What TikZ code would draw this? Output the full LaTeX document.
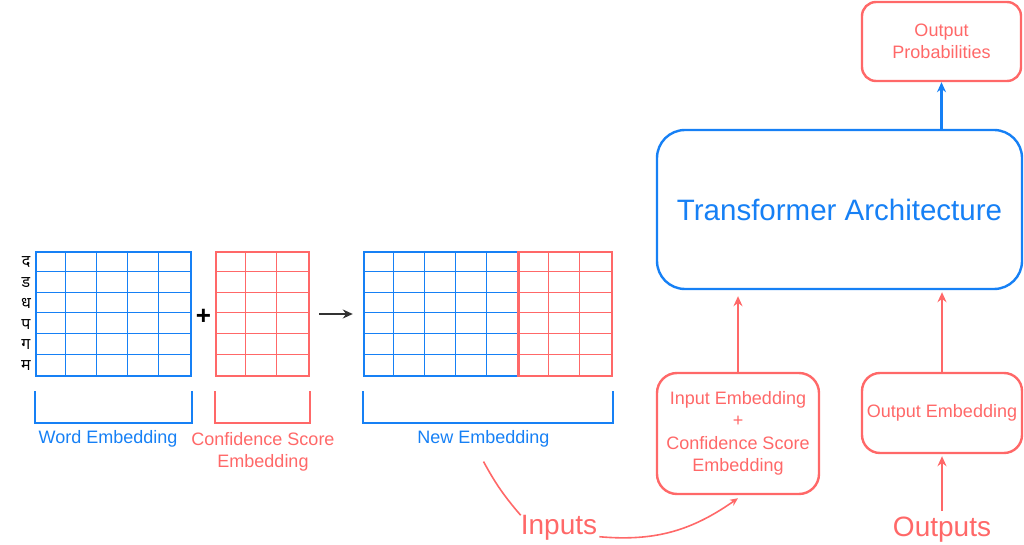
\documentclass[tikz,border=0pt]{standalone}
\usepackage{fontspec}
\setmainfont{Liberation Sans}
\newfontfamily\devafont[Script=Devanagari]{Noto Sans}
\usetikzlibrary{arrows.meta,positioning,calc}

\definecolor{embblue}{RGB}{22,128,245}
\definecolor{embred}{RGB}{255,104,104}
\definecolor{arrgray}{RGB}{50,50,50}

\tikzset{
  lbl/.style={font=\fontsize{18}{22.5}\selectfont, align=center, inner sep=0pt},
  biglbl/.style={font=\fontsize{28}{32}\selectfont, inner sep=2pt},
  blk/.style={draw, line width=2.4pt, align=center, inner sep=0pt},
  grid/.style={draw, line width=2.4pt, minimum height=124pt, inner sep=0pt},
  cell/.style={line width=1.2pt},
  brk/.style={line width=2.4pt},
  arr/.style={-{Stealth[length=10pt,width=9pt]}, line width=2.2pt},
}

\begin{document}
\begin{tikzpicture}[x=1pt,y=-1pt]
\useasboundingbox (0,0) rectangle (1024,545);

% the three embedding grids
\node[grid, draw=embblue, minimum width=155pt] (word) at (113.5,314) {};
\node[grid, draw=embred, minimum width=93pt] (conf) at (262.5,314) {};
\node[grid, draw=embblue, minimum width=155pt] (newblue) at (441.5,314) {};
\node[grid, draw=embred, minimum width=93pt] (newred) at (565.5,314) {};

\foreach \n/\c/\k in {word/embblue/4, conf/embred/2, newblue/embblue/4, newred/embred/2} {
  \foreach \i in {1,...,\k}
    \draw[cell, \c] ($(\n.north west)+(31*\i,0)$) -- ($(\n.south west)+(31*\i,0)$);
  \foreach \j in {1,...,5}
    \draw[cell, \c] ($(\n.north west)+(0,124/6*\j)$) -- ($(\n.north east)+(0,124/6*\j)$);
}
\draw[line width=2.4pt, embred] (newred.north west) -- (newred.south west);

% row tokens
\foreach \t [count=\j from 0] in {द,ड,ध,प,ग,म}
  \node[font=\devafont\fontsize{16}{16}\selectfont, inner sep=0pt] (tok\j) at (26,{252+124/6*(\j+0.5)}) {\t};

\node[font=\bfseries\fontsize{26}{26}\selectfont, inner sep=0pt] (plus) at ($(word.east)!0.5!(conf.west)+(0,3)$) {+};
\draw[arr, arrgray, line width=2pt, shorten <=9pt, shorten >=10pt] (conf.east) -- (newblue.west);

% brackets
\draw[brk, embblue] ($(word.south west)+(0,14)$) -- ++(0,32) -| ($(word.south east)+(0,14)$);
\draw[brk, embred] ($(conf.south west)+(0,14)$) -- ++(0,32) -| ($(conf.south east)+(0,14)$);
\draw[brk, embblue] ($(newblue.south west)+(0,14)$) -- ++(0,32) -| ($(newred.south east)+(0,14)$);

\node[lbl, embblue] (wordlbl) at (108,439) {Word Embedding};
\node[lbl, embred] (conflbl) at (263,452) {Confidence Score\\Embedding};
\node[lbl, embblue] (newlbl) at (483.5,439) {New Embedding};

% model side
\node[blk, draw=embred, rounded corners=14pt, minimum width=159pt, minimum height=79pt, text=embred, font=\fontsize{18}{22}\selectfont] (outprob) at (941.5,41.5) {Output\\Probabilities};
\node[blk, draw=embblue, rounded corners=28pt, minimum width=365pt, minimum height=159pt, text=embblue, font=\fontsize{29.5}{34}\selectfont] (trans) at (839.5,209.5) {Transformer Architecture};
\node[blk, draw=embred, rounded corners=20pt, minimum width=162pt, minimum height=121pt, text=embred, font=\fontsize{18}{22.5}\selectfont] (inemb) at (738,433.5) {Input Embedding\\+\\Confidence Score\\Embedding};
\node[blk, draw=embred, rounded corners=18pt, minimum width=160pt, minimum height=80pt, text=embred, font=\fontsize{18}{22}\selectfont] (outemb) at (942,413) {Output Embedding};

\node[biglbl, embred] (inputs) at (559,528) {Inputs};
\node[biglbl, embred] (outputs) at (942,530) {Outputs};

\draw[arr, embblue] (trans.north -| outprob.south) -- (outprob.south);
\draw[arr, embred, shorten >=6pt] (inemb.north) -- (inemb.north |- trans.south);
\draw[arr, embred, shorten >=2pt] (outemb.north) -- (outemb.north |- trans.south);
\draw[arr, embred, shorten <=4pt, shorten >=2pt] (outputs.north) -- (outemb.south);

\coordinate (newtail) at ($(newlbl.south)+(0,14)$);
\draw[embred, line width=1.6pt] (newtail) to[bend right=6] ($(inputs.north west)+(2,2)$);
\draw[embred, line width=1.6pt, -{Stealth[length=8pt,width=7pt]}] ($(inputs.base east)+(0,2)$) to[out=-5, in=-145] ($(inemb.south)+(0,3)$);
\end{tikzpicture}
\end{document}
